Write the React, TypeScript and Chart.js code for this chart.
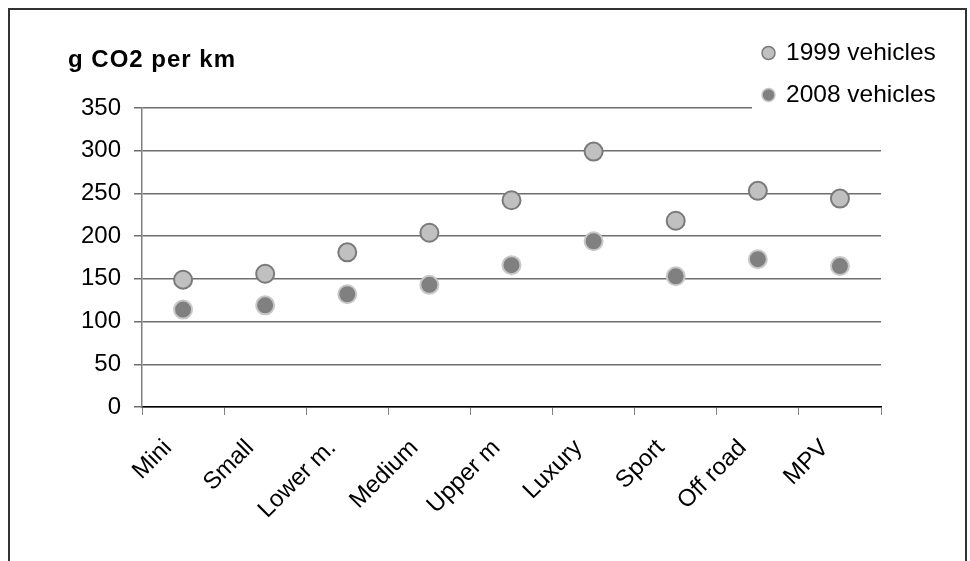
import React, { useEffect, useRef } from "react";
import { Chart, registerables } from "chart.js";

Chart.register(...registerables);

const chartTitle = "g CO2 per km";
const categories = ["Mini", "Small", "Lower m.", "Medium", "Upper m", "Luxury", "Sport", "Off road", "MPV"];
const seriesLabels = ["1999 vehicles", "2008 vehicles"];
const vehicles1999 = [149, 156, 181, 204, 242, 299, 218, 253, 244];
const vehicles2008 = [114, 119, 132, 143, 166, 194, 153, 173, 165];
const yMin = 0;
const yMax = 350;
const yStep = 50;

const FONT = "'Liberation Sans', Arial, sans-serif";

const titlePlugin = {
  id: "customTitle",
  afterDraw(chart: any) {
    const { ctx } = chart;
    ctx.save();
    ctx.fillStyle = "#000000";
    ctx.font = `bold 24px ${FONT}`;
    (ctx as any).letterSpacing = "1px";
    ctx.textAlign = "left";
    ctx.textBaseline = "alphabetic";
    ctx.fillText(chartTitle, 68, 67);
    ctx.restore();
  },
};

const legendPlugin = {
  id: "customLegend",
  afterDraw(chart: any) {
    const { ctx, chartArea } = chart;
    ctx.save();
    const boxLeft = chartArea.right - 129;
    ctx.fillStyle = "#ffffff";
    ctx.fillRect(boxLeft, 28, 210, chartArea.top + 8 - 28);
    chart.data.datasets.forEach((ds: any, i: number) => {
      const y = 53 + i * 42;
      const cx = boxLeft + 16.5;
      ctx.beginPath();
      ctx.arc(cx, y, 6.5, 0, Math.PI * 2);
      ctx.fillStyle = ds.backgroundColor;
      ctx.fill();
      ctx.lineWidth = 1.5;
      ctx.strokeStyle = ds.borderColor;
      ctx.stroke();
      ctx.fillStyle = "#000000";
      ctx.font = `24.5px ${FONT}`;
      ctx.textAlign = "left";
      ctx.textBaseline = "alphabetic";
      ctx.fillText(ds.label, cx + 17.5, y + 7);
    });
    ctx.restore();
  },
};

export default function App() {
  const canvasRef = useRef<HTMLCanvasElement | null>(null);

  useEffect(() => {
    if (!canvasRef.current) return;
    const chart = new Chart(canvasRef.current, {
      type: "line",
      data: {
        labels: categories,
        datasets: [
          {
            label: seriesLabels[0],
            data: vehicles1999,
            showLine: false,
            backgroundColor: "#c0c0c0",
            borderColor: "#7a7a7a",
            pointBackgroundColor: "#c0c0c0",
            pointBorderColor: "#7a7a7a",
            pointBorderWidth: 2,
            pointRadius: 9,
          },
          {
            label: seriesLabels[1],
            data: vehicles2008,
            showLine: false,
            backgroundColor: "#808080",
            borderColor: "#c8c8c8",
            pointBackgroundColor: "#808080",
            pointBorderColor: "#c8c8c8",
            pointBorderWidth: 2,
            pointRadius: 9,
          },
        ],
      },
      options: {
        responsive: false,
        animation: false,
        layout: { padding: { left: 67, right: 89, top: 108, bottom: 0 } },
        plugins: {
          legend: { display: false },
          tooltip: { enabled: false },
          title: { display: false },
        },
        scales: {
          x: {
            type: "category",
            offset: true,
            grid: {
              offset: true,
              drawOnChartArea: false,
              drawTicks: true,
              tickLength: 8,
              color: "#808080",
            },
            border: { display: true, color: "#000000", width: 1.5 },
            ticks: {
              color: "#000000",
              font: { family: FONT, size: 24 },
              maxRotation: 45,
              minRotation: 45,
              autoSkip: false,
              padding: 19,
              labelOffset: -15,
            },
            afterFit(scale: any) {
              scale.height = 154;
            },
          },
          y: {
            min: yMin,
            max: yMax,
            grid: {
              color: "#6e6e6e",
              lineWidth: 1.5,
              tickLength: 8,
            },
            border: { display: true, color: "#808080", width: 1.5 },
            ticks: {
              stepSize: yStep,
              color: "#000000",
              font: { family: FONT, size: 24 },
              padding: 13,
            },
            afterFit(scale: any) {
              scale.width = 75;
            },
          },
        },
      },
      plugins: [legendPlugin, titlePlugin],
    });
    return () => chart.destroy();
  }, []);

  return (
    <div>
      <canvas
        ref={canvasRef}
        width={970}
        height={561}
        style={{ position: "fixed", left: 0, top: 0, width: 970, height: 561 }}
      />
      <div
        style={{
          position: "fixed",
          left: 8,
          top: 8,
          width: 959,
          height: 700,
          boxSizing: "border-box",
          border: "2px solid #333333",
          pointerEvents: "none",
        }}
      />
    </div>
  );
}
